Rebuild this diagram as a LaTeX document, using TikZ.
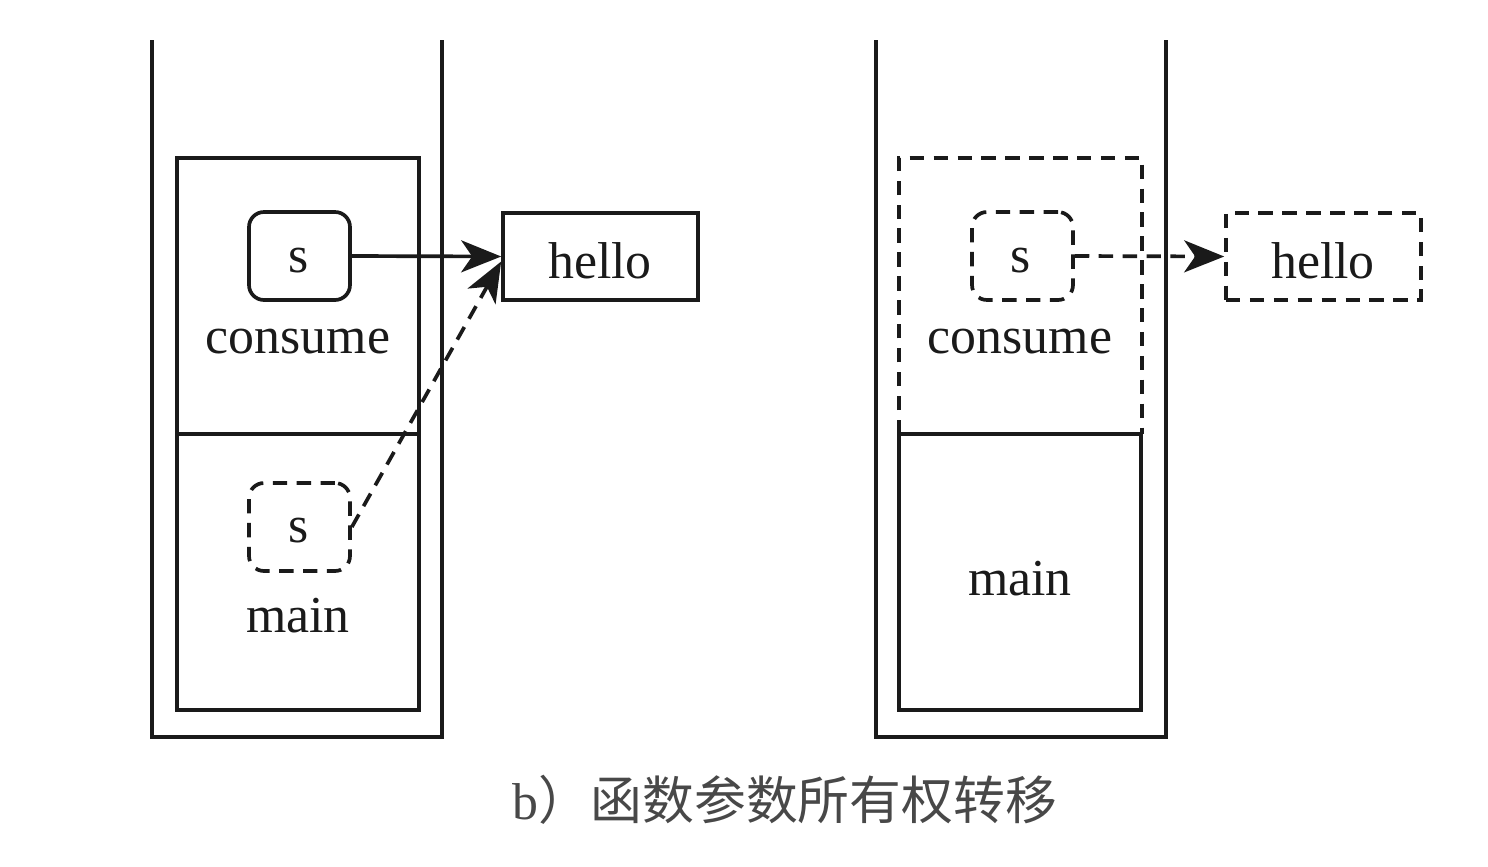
\documentclass[tikz,border=0pt]{standalone}
\usepackage{fontspec}
\setmainfont{Liberation Serif}
\newfontfamily\cjk{Noto Sans CJK SC}
\usetikzlibrary{arrows.meta,calc}
\definecolor{ink}{HTML}{1A1A1A}
\tikzset{
  px/.style={x=0.02cm,y=-0.02cm},
  frame/.style={draw=ink,line width=2.1pt},
  dsh/.style={draw=ink,line width=2.1pt,dash pattern=on 8.2pt off 5.4pt},
  varbox/.style={line width=2.1pt,rounded corners=0.3cm,minimum width=2.02cm,minimum height=1.76cm,inner sep=0pt},
  heapbox/.style={line width=2.1pt,minimum width=3.9cm,minimum height=1.74cm,inner sep=0pt},
  lbl/.style={inner sep=0pt,text=ink,font=\fontsize{29.5}{30}\selectfont},
  arr/.style={-{Stealth[length=0.8cm,width=0.64cm,inset=0.22cm]},line width=2.1pt,draw=ink},
}
\begin{document}
\begin{tikzpicture}[px]
\useasboundingbox (0,0) rectangle (1488,866);
% ---------- left stack ----------
\draw[frame] (152,40) -- (152,737) -- (442,737) -- (442,40);
\draw[frame] (177,158) rectangle (419,710);
\draw[frame] (177,434) -- (419,434);
\node[varbox,draw=ink] (sL) at (299.5,256) {};
\node[lbl] (sLtxt) at (299,261) {s};
\node[lbl] (consumeL) at (298,342) {consume};
\node[varbox,dsh] (sdL) at (299.5,527) {};
\node[lbl] (sdLtxt) at (299,531) {s};
\node[lbl] (mainL) at (298,616) {main};
\node[heapbox,draw=ink] (helloL) at (600.5,256.5) {};
\node[lbl] (helloLtxt) at (600,261) {hello};
\draw[arr] (sL.east) -- (helloL.west);
\draw[arr,dash pattern=on 8.2pt off 5.4pt] (sdL.east) -- ($(helloL.west)+(0,5)$);
% ---------- right stack ----------
\draw[frame] (876,40) -- (876,737) -- (1166,737) -- (1166,40);
\draw[dsh] (899,434) -- (899,158) -- (1142,158) -- (1142,434);
\draw[frame] (899,434) rectangle (1141,710);
\node[varbox,dsh] (sR) at (1022.5,256) {};
\node[lbl] (sRtxt) at (1021,261) {s};
\node[lbl] (consumeR) at (1020,342) {consume};
\node[lbl] (mainR) at (1020,579) {main};
\node[heapbox,dsh] (helloR) at (1323.5,256.5) {};
\node[lbl] (helloRtxt) at (1323,261) {hello};
\draw[arr,dash pattern=on 8.2pt off 5.4pt] (sR.east) -- (helloR.west);
% ---------- caption ----------
\node[inner sep=0pt,text=ink!80] (cap) at (785,800) {\fontsize{29.5}{32}\selectfont b\cjk ）函数参数所有权转移};
\end{tikzpicture}
\end{document}
